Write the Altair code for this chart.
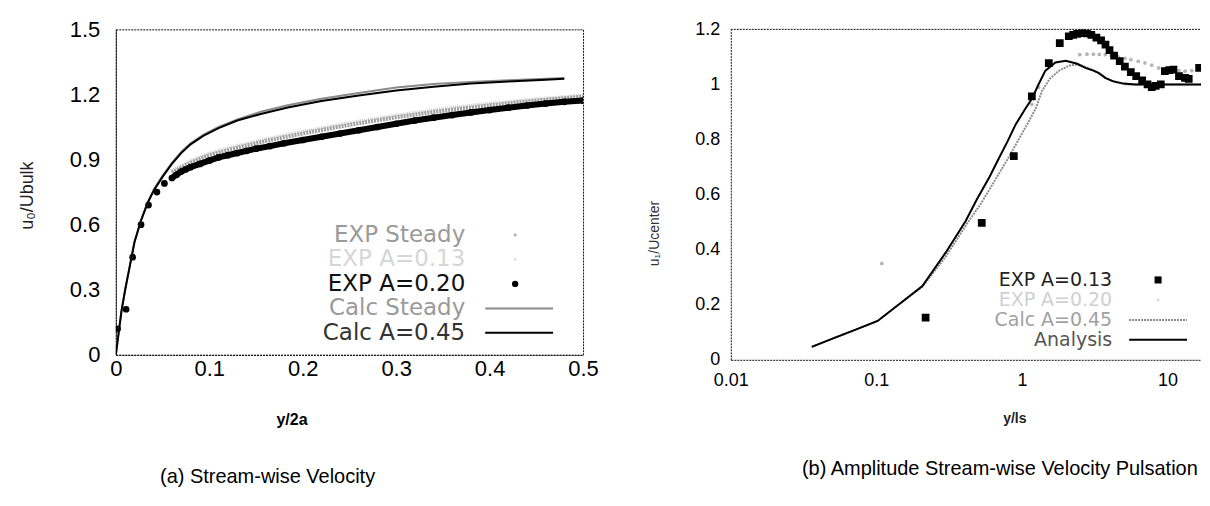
import altair as alt
import pandas as pd

FONT = "Liberation Sans"
LFONT = "DejaVu Sans"

# ---------------- (a) Stream-wise Velocity : y/2a vs u0/Ubulk ----------------
a_calc045_x = [0, 0.003, 0.006, 0.01, 0.015, 0.02, 0.027, 0.034, 0.041, 0.05, 0.06, 0.07, 0.08,
               0.094, 0.11, 0.13, 0.155, 0.184, 0.22, 0.26, 0.3, 0.34, 0.38, 0.42, 0.46, 0.48]
a_calc045_u = [0, 0.1, 0.2, 0.3, 0.41, 0.52, 0.62, 0.70, 0.76, 0.82, 0.88, 0.93, 0.97,
               1.01, 1.045, 1.08, 1.11, 1.14, 1.17, 1.195, 1.218, 1.236, 1.25, 1.26, 1.268, 1.272]
a_calcst_x = [0, 0.003, 0.006, 0.01, 0.015, 0.02, 0.027, 0.034, 0.041, 0.05, 0.06, 0.07, 0.08,
              0.094, 0.11, 0.13, 0.155, 0.184, 0.22, 0.26, 0.3, 0.34, 0.38, 0.42, 0.46, 0.48]
a_calcst_u = [0, 0.1, 0.2, 0.3, 0.41, 0.52, 0.62, 0.70, 0.765, 0.825, 0.885, 0.935, 0.975,
              1.015, 1.05, 1.085, 1.12, 1.15, 1.18, 1.207, 1.232, 1.248, 1.258, 1.266, 1.272, 1.276]
a_exp020_x = [0.002, 0.011, 0.018, 0.027, 0.035, 0.044, 0.052, 0.06, 0.065, 0.07, 0.075, 0.08,
              0.09, 0.1, 0.11, 0.12, 0.13, 0.14, 0.15, 0.165, 0.18, 0.2, 0.22, 0.24, 0.26, 0.28,
              0.3, 0.32, 0.34, 0.36, 0.38, 0.4, 0.42, 0.44, 0.46, 0.48, 0.5]
a_exp020_u = [0.12, 0.21, 0.45, 0.60, 0.69, 0.75, 0.79, 0.815, 0.83, 0.845, 0.855, 0.865,
              0.88, 0.895, 0.91, 0.92, 0.93, 0.94, 0.95, 0.962, 0.975, 0.99, 1.005, 1.02, 1.035, 1.05,
              1.065, 1.08, 1.093, 1.105, 1.117, 1.128, 1.139, 1.149, 1.158, 1.166, 1.172]
a_expst_x = [0.06, 0.08, 0.1, 0.13, 0.16, 0.2, 0.25, 0.3, 0.35, 0.4, 0.45, 0.5]
a_expst_u = [0.84, 0.885, 0.92, 0.955, 0.985, 1.02, 1.06, 1.095, 1.125, 1.15, 1.172, 1.19]
a_exp013_x = [0.06, 0.08, 0.1, 0.13, 0.16, 0.2, 0.25, 0.3, 0.35, 0.4, 0.45, 0.5]
a_exp013_u = [0.85, 0.895, 0.93, 0.965, 0.995, 1.03, 1.07, 1.105, 1.135, 1.16, 1.18, 1.197]

a_xticks = [0, 0.1, 0.2, 0.3, 0.4, 0.5]
a_yticks = [0, 0.3, 0.6, 0.9, 1.2, 1.5]
a_legend = ["EXP Steady", "EXP A=0.13", "EXP A=0.20", "Calc Steady", "Calc A=0.45"]

# ---------------- (b) Amplitude : y/ls vs u1/Ucenter ----------------
b_ana_x = [0.036, 0.05, 0.07, 0.102, 0.15, 0.207, 0.3, 0.411, 0.492, 0.6, 0.695, 0.8, 0.906,
           1.05, 1.18, 1.3, 1.45, 1.7, 2.0, 2.4, 2.73, 3.1, 3.36, 3.74, 4.2, 5, 6, 8, 10, 13, 17]
b_ana_u = [0.047, 0.077, 0.107, 0.141, 0.21, 0.268, 0.39, 0.504, 0.584, 0.665, 0.732, 0.795, 0.855,
           0.91, 0.951, 1.0, 1.05, 1.08, 1.086, 1.075, 1.06, 1.05, 1.042, 1.024, 1.012, 1.003, 1.0,
           1.0, 1.0, 1.0, 1.0]
b_calc045_x = [0.036, 0.05, 0.07, 0.102, 0.15, 0.207, 0.3, 0.42, 0.52, 0.65, 0.8, 0.95, 1.1, 1.25,
               1.37, 1.55, 1.8, 2.1, 2.33, 2.6, 3.0, 3.4, 3.8, 4.4, 5.2, 6.5, 8, 10, 13, 17]
b_calc045_u = [0.047, 0.077, 0.107, 0.141, 0.21, 0.265, 0.375, 0.495, 0.565, 0.65, 0.73, 0.8, 0.86,
               0.915, 0.975, 1.02, 1.05, 1.068, 1.072, 1.068, 1.055, 1.04, 1.022, 1.008, 1.0, 1.0,
               1.0, 1.0, 1.0, 1.0]
b_exp013_x = [0.218, 0.53, 0.88, 1.17, 1.53, 1.82, 2.1, 2.25, 2.4, 2.6, 2.8, 3.0, 3.25, 3.5, 3.75,
              4.0, 4.3, 4.7, 5.1, 5.6, 6.1, 6.7, 7.3, 7.8, 8.3, 9.0, 9.6, 10.3, 11.0, 12.0, 13.2, 14.0, 16.5]
b_exp013_u = [0.153, 0.497, 0.74, 0.957, 1.077, 1.15, 1.175, 1.18, 1.184, 1.186, 1.185, 1.18, 1.17,
              1.16, 1.145, 1.125, 1.105, 1.085, 1.065, 1.045, 1.03, 1.015, 1.0, 0.99, 0.995, 1.0,
              1.048, 1.052, 1.054, 1.03, 1.024, 1.02, 1.06]
b_exp020_x = [0.109, 1.17, 1.3, 2.5, 2.8, 3.1, 3.4, 3.74, 4.1, 4.6, 5.1, 5.6, 6.3, 7.0, 7.8, 8.7,
              9.7, 10.7, 12.0, 13.2, 14.7, 16.3]
b_exp020_u = [0.35, 0.928, 0.99, 1.108, 1.11, 1.11, 1.109, 1.108, 1.104, 1.10, 1.095, 1.09, 1.084,
              1.078, 1.07, 1.06, 1.056, 1.054, 1.05, 1.048, 1.05, 1.054]

b_xticks = [0.01, 0.1, 1, 10]
b_yticks = [0, 0.2, 0.4, 0.6, 0.8, 1.0, 1.2]
b_legend = ["EXP A=0.13", "EXP A=0.20", "Calc A=0.45", "Analysis"]

captions = ["(a) Stream-wise Velocity", "(b) Amplitude Stream-wise Velocity Pulsation"]

# ---------------- helpers ----------------
FRAME = "#111111"
DASH = [2, 1]


def df(xs, ys):
    return pd.DataFrame({"x": xs, "y": ys})


def legend_text(label, x, y, color, size):
    return alt.Chart(pd.DataFrame({"label": [label]})).mark_text(
        align="right", baseline="middle", font=LFONT, fontSize=size, color=color
    ).encode(x=alt.value(x), y=alt.value(y), text="label:N")


def legend_line(x1, x2, y, color, width, dash=None):
    kw = dict(color=color, strokeWidth=width)
    if dash:
        kw["strokeDash"] = dash
    return alt.Chart(pd.DataFrame({"d": [0]})).mark_rule(**kw).encode(
        x=alt.value(x1), x2=alt.value(x2), y=alt.value(y))


def legend_point(x, y, color, shape, size):
    return alt.Chart(pd.DataFrame({"d": [0]})).mark_point(
        filled=True, shape=shape, size=size, color=color, opacity=1
    ).encode(x=alt.value(x), y=alt.value(y))


# ---------------- panel (a) ----------------
AW, AH = 468, 326
ax = alt.X("x:Q", scale=alt.Scale(domain=[0, 0.5], nice=False),
           axis=alt.Axis(values=a_xticks, format="~g", labelFont=FONT, labelFontSize=22,
                         labelColor="black", labelPadding=4, labelFlush=False, ticks=False,
                         grid=False, domainColor=FRAME, domainDash=DASH, title="y/2a",
                         titleFont=FONT, titleFontSize=16, titleFontWeight="bold",
                         titleColor="black", titleX=176, titleY=65, titleBaseline="middle"))
ay = alt.Y("y:Q", scale=alt.Scale(domain=[0, 1.5], nice=False),
           axis=alt.Axis(values=a_yticks, format="~g", labelFont=FONT, labelFontSize=22,
                         labelColor="black", labelPadding=16, labelFlush=False, ticks=False,
                         grid=False, domainColor=FRAME, domainDash=DASH, title="u₀/Ubulk",
                         titleFont=FONT, titleFontSize=18, titleFontWeight="normal",
                         titleColor="#222", titleX=-88, titleY=166, titleBaseline="middle"))

exp020 = df(a_exp020_x, a_exp020_u)
dense = exp020[exp020["x"] >= 0.06]

a_layers = [
    alt.Chart(df(a_exp013_x, a_exp013_u)).mark_line(color="#cfcfcf", strokeWidth=3, strokeDash=[1, 1], clip=True).encode(x=ax, y=ay),
    alt.Chart(df(a_expst_x, a_expst_u)).mark_line(color="#a0a0a0", strokeWidth=4, strokeDash=[2, 1], clip=True).encode(x=ax, y=ay),
    alt.Chart(dense).mark_line(color="black", strokeWidth=6, clip=True).encode(x=ax, y=ay),
    alt.Chart(exp020).mark_point(filled=True, shape="circle", size=45, color="black", opacity=1, clip=True).encode(x=ax, y=ay),
    alt.Chart(df(a_calcst_x, a_calcst_u)).mark_line(color="#8a8a8a", strokeWidth=2, clip=True).encode(x=ax, y=ay),
    alt.Chart(df(a_calc045_x, a_calc045_u)).mark_line(color="black", strokeWidth=2, clip=True).encode(x=ax, y=ay),
]
a_rows = [206, 230.5, 255, 279.5, 304]
a_cols = ["#9a9a9a", "#d6d6d6", "#111111", "#9a9a9a", "#333333"]
for lab, yy, cc in zip(a_legend, a_rows, a_cols):
    a_layers.append(legend_text(lab, 350, yy, cc, 23))
a_layers += [
    legend_point(400, a_rows[0], "#b0b0b0", "circle", 10),
    legend_point(400, a_rows[1], "#e2e2e2", "circle", 8),
    legend_point(400, a_rows[2], "black", "circle", 40),
    legend_line(370, 438, a_rows[3], "#8a8a8a", 2),
    legend_line(370, 438, a_rows[4], "black", 2),
]
left = alt.layer(*a_layers).properties(
    width=AW, height=AH,
    view=alt.ViewBackground(stroke=FRAME, strokeWidth=1, strokeDash=DASH),
    title=alt.TitleParams(captions[0], orient="bottom", anchor="middle", frame="group",
                          font=FONT, fontSize=20, fontWeight="normal", color="black",
                          dx=-82, offset=39),
)

# ---------------- panel (b) ----------------
BW, BH = 471, 331
bx = alt.X("x:Q", scale=alt.Scale(type="log", domain=[0.01, 17], nice=False),
           axis=alt.Axis(values=b_xticks, format="~g", labelFont=FONT, labelFontSize=18,
                         labelColor="black", labelPadding=12, labelFlush=False, ticks=False,
                         grid=False, domainColor=FRAME, domainDash=DASH, title="y/ls",
                         titleFont=FONT, titleFontSize=14, titleFontWeight="bold",
                         titleColor="#222", titleX=284, titleY=59, titleBaseline="middle"))
by = alt.Y("y:Q", scale=alt.Scale(domain=[0, 1.2], nice=False),
           axis=alt.Axis(values=b_yticks, format="~g", labelFont=FONT, labelFontSize=18,
                         labelColor="black", labelPadding=11, labelFlush=False, ticks=False,
                         grid=False, domainColor=FRAME, domainDash=DASH, title="u₁/Ucenter",
                         titleFont=FONT, titleFontSize=14, titleFontWeight="normal",
                         titleColor="#333", titleX=-76, titleY=204, titleBaseline="middle"))

b_layers = [
    alt.Chart(pd.DataFrame({"d": [0]})).mark_rule(color=FRAME, strokeWidth=1, strokeDash=DASH).encode(
        x=alt.value(0), x2=alt.value(BW), y=alt.value(0)),
    alt.Chart(df(b_exp020_x, b_exp020_u)).mark_point(filled=True, shape="circle", size=14, color="#b5b5b5", opacity=1, clip=True).encode(x=bx, y=by),
    alt.Chart(df(b_calc045_x, b_calc045_u)).mark_line(color="#8c8c8c", strokeWidth=2, strokeDash=[2, 1], clip=True).encode(x=bx, y=by),
    alt.Chart(df(b_ana_x, b_ana_u)).mark_line(color="black", strokeWidth=2, clip=True).encode(x=bx, y=by),
    alt.Chart(df(b_exp013_x, b_exp013_u)).mark_point(filled=True, shape="square", size=60, color="black", opacity=1, clip=True).encode(x=bx, y=by),
]
b_rows = [251, 271, 291, 311]
b_cols = ["#222222", "#d0d0d0", "#a0a0a0", "#555555"]
for lab, yy, cc in zip(b_legend, b_rows, b_cols):
    b_layers.append(legend_text(lab, 382, yy, cc, 19))
b_layers += [
    legend_point(428, b_rows[0], "black", "square", 50),
    legend_point(428, b_rows[1], "#d8d8d8", "circle", 8),
    legend_line(399, 457, b_rows[2], "#8c8c8c", 2, [2, 1]),
    legend_line(399, 457, b_rows[3], "black", 2),
]
right = alt.layer(*b_layers).properties(
    width=BW, height=BH,
    title=alt.TitleParams(captions[1], orient="bottom", anchor="middle", frame="group",
                          font=FONT, fontSize=20, fontWeight="normal", color="black",
                          dx=34, offset=33),
)

chart = alt.hconcat(left, right, spacing=148, bounds="flush").properties(
    padding={"left": 10, "top": 9, "right": 0, "bottom": 0}
).configure_view(stroke="transparent")

chart.save("out.html", embed_options={"renderer": "svg", "actions": False})
